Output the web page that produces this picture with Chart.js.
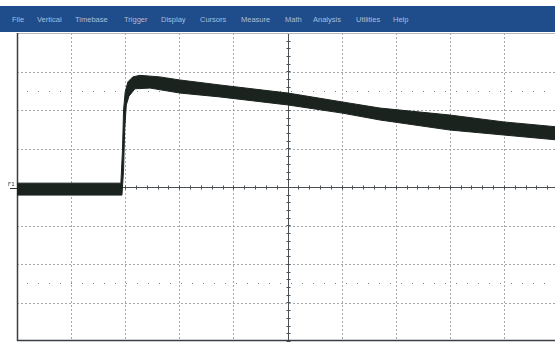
<!DOCTYPE html>
<html>
<head>
<meta charset="utf-8">
<script src="https://cdn.jsdelivr.net/npm/chart.js@4/dist/chart.umd.min.js"></script>
<style>
  html, body { margin: 0; padding: 0; background: #fff; width: 555px; height: 342px; overflow: hidden; position: relative; }
  #menu { position: absolute; left: 0; top: 6px; width: 555px; height: 26px; background: #1f4d8c; font-family: "Liberation Sans", Arial, sans-serif; font-size: 7.5px; color: #a9bdd9; }
  #menu span { position: absolute; top: 9px; white-space: nowrap; }
  #wrap { position: absolute; left: 0; top: 0; width: 562px; height: 342px; }
  #f1 { position: absolute; left: 8px; top: 181px; font-family: "DejaVu Sans", sans-serif; font-size: 5.5px; color: #333; }
</style>
</head>
<body>
<div id="wrap"><canvas id="c" width="562" height="342"></canvas></div>
<div id="menu"></div>
<div id="f1">F1</div>
<script>
// Menu items
const menuItems = ["File", "Vertical", "Timebase", "Trigger", "Display", "Cursors", "Measure", "Math", "Analysis", "Utilities", "Help"];
const menuX = [12, 37, 75, 124, 161, 200, 241, 285, 313, 356, 393];

// Trace envelope (time in divisions, amplitude in divisions)
const upperTime = [0, 1.92, 1.95, 1.97, 2.0, 2.05, 2.14, 2.27, 2.64, 3.01, 3.75, 5.01, 6.01, 6.71, 8.0, 9.0, 10.0];
const upperAmp  = [0.10, 0.10, 0.96, 2.00, 2.47, 2.73, 2.86, 2.90, 2.86, 2.78, 2.65, 2.44, 2.21, 2.05, 1.87, 1.69, 1.56];
const lowerTime = [0, 1.94, 1.97, 1.99, 2.02, 2.07, 2.18, 2.46, 3.01, 3.75, 5.01, 6.01, 6.71, 8.0, 9.0, 10.0];
const lowerAmp  = [-0.21, -0.21, 0.44, 1.48, 2.13, 2.36, 2.55, 2.57, 2.44, 2.34, 2.13, 1.92, 1.74, 1.48, 1.35, 1.22];

// Graticule
const xDivisions = [0, 1, 2, 3, 4, 5, 6, 7, 8, 9, 10];
const yDivisions = [-4, -3, -2, -1, 0, 1, 2, 3, 4];
const dottedLevels = [2.5, -2.5];

const menu = document.getElementById('menu');
menuItems.forEach((t, i) => {
  const s = document.createElement('span');
  s.textContent = t; s.style.left = menuX[i] + 'px';
  menu.appendChild(s);
});

const traceColor = '#1b231f';

const graticule = {
  id: 'graticule',
  beforeDatasetsDraw(chart) {
    const ctx = chart.ctx, xs = chart.scales.x, ys = chart.scales.y, a = chart.chartArea;
    ctx.save();
    // dashed grid
    ctx.strokeStyle = '#a3a8ad';
    ctx.lineWidth = 1;
    ctx.setLineDash([2, 2]);
    xDivisions.forEach(d => {
      if (d === 0 || d === 5 || d === 10) return;
      const px = Math.round(xs.getPixelForValue(d)) + 0.5;
      ctx.beginPath(); ctx.moveTo(px, a.top); ctx.lineTo(px, a.bottom); ctx.stroke();
    });
    yDivisions.forEach(d => {
      if (d === 0 || d === 4 || d === -4) return;
      const py = Math.round(ys.getPixelForValue(d)) + 0.5;
      ctx.beginPath(); ctx.moveTo(a.left, py); ctx.lineTo(a.right, py); ctx.stroke();
    });
    // dotted reference levels
    ctx.setLineDash([1, 10]);
    ctx.strokeStyle = '#80858a';
    dottedLevels.forEach(d => {
      const py = Math.round(ys.getPixelForValue(d)) + 0.5;
      ctx.beginPath(); ctx.moveTo(a.left + 10, py); ctx.lineTo(a.right, py); ctx.stroke();
    });
    ctx.setLineDash([]);
    // center axes
    ctx.strokeStyle = '#4a4f54';
    const cx = Math.round(xs.getPixelForValue(5)) + 0.5;
    const cy = Math.round(ys.getPixelForValue(0)) + 0.5;
    ctx.beginPath(); ctx.moveTo(a.left, cy); ctx.lineTo(a.right, cy); ctx.stroke();
    ctx.beginPath(); ctx.moveTo(cx, a.top); ctx.lineTo(cx, a.bottom); ctx.stroke();
    // minor ticks
    for (let v = 0; v <= 10.001; v += 0.2) {
      const px = Math.round(xs.getPixelForValue(v)) + 0.5;
      ctx.beginPath(); ctx.moveTo(px, cy - 2); ctx.lineTo(px, cy + 2); ctx.stroke();
    }
    for (let v = -4; v <= 4.001; v += 0.2) {
      const py = Math.round(ys.getPixelForValue(v)) + 0.5;
      ctx.beginPath(); ctx.moveTo(cx - 2, py); ctx.lineTo(cx + 2, py); ctx.stroke();
    }
    // marker stub at left
    ctx.strokeStyle = '#333';
    ctx.beginPath(); ctx.moveTo(a.left - 7, cy + 1); ctx.lineTo(a.left, cy + 1); ctx.stroke();
    // frame
    ctx.strokeStyle = '#b5b9bd';
    ctx.beginPath(); ctx.moveTo(a.left, a.top + 0.5); ctx.lineTo(a.right, a.top + 0.5); ctx.stroke();
    ctx.strokeStyle = '#3b3f43';
    ctx.lineWidth = 1.5;
    ctx.beginPath(); ctx.moveTo(a.left + 0.5, a.top); ctx.lineTo(a.left + 0.5, a.bottom); ctx.stroke();
    ctx.beginPath(); ctx.moveTo(a.left, a.bottom - 0.5); ctx.lineTo(a.right, a.bottom - 0.5); ctx.stroke();
    ctx.restore();
  }
};

new Chart(document.getElementById('c'), {
  type: 'line',
  data: {
    datasets: [
      { data: upperTime.map((t, i) => ({ x: t, y: upperAmp[i] })), borderColor: traceColor, borderWidth: 1, pointRadius: 0, fill: false, tension: 0 },
      { data: lowerTime.map((t, i) => ({ x: t, y: lowerAmp[i] })), borderColor: traceColor, borderWidth: 1, pointRadius: 0, fill: '-1', backgroundColor: traceColor, tension: 0 }
    ]
  },
  options: {
    responsive: false,
    animation: false,
    events: [],
    layout: { padding: { left: 17, top: 33, right: 4, bottom: 1 } },
    plugins: { legend: { display: false }, tooltip: { enabled: false } },
    scales: {
      x: { type: 'linear', min: 0, max: 10, ticks: { display: false }, grid: { display: false, drawTicks: false }, border: { display: false } },
      y: { type: 'linear', min: -4, max: 4, ticks: { display: false }, grid: { display: false, drawTicks: false }, border: { display: false } }
    }
  },
  plugins: [graticule]
});
</script>
</body>
</html>
